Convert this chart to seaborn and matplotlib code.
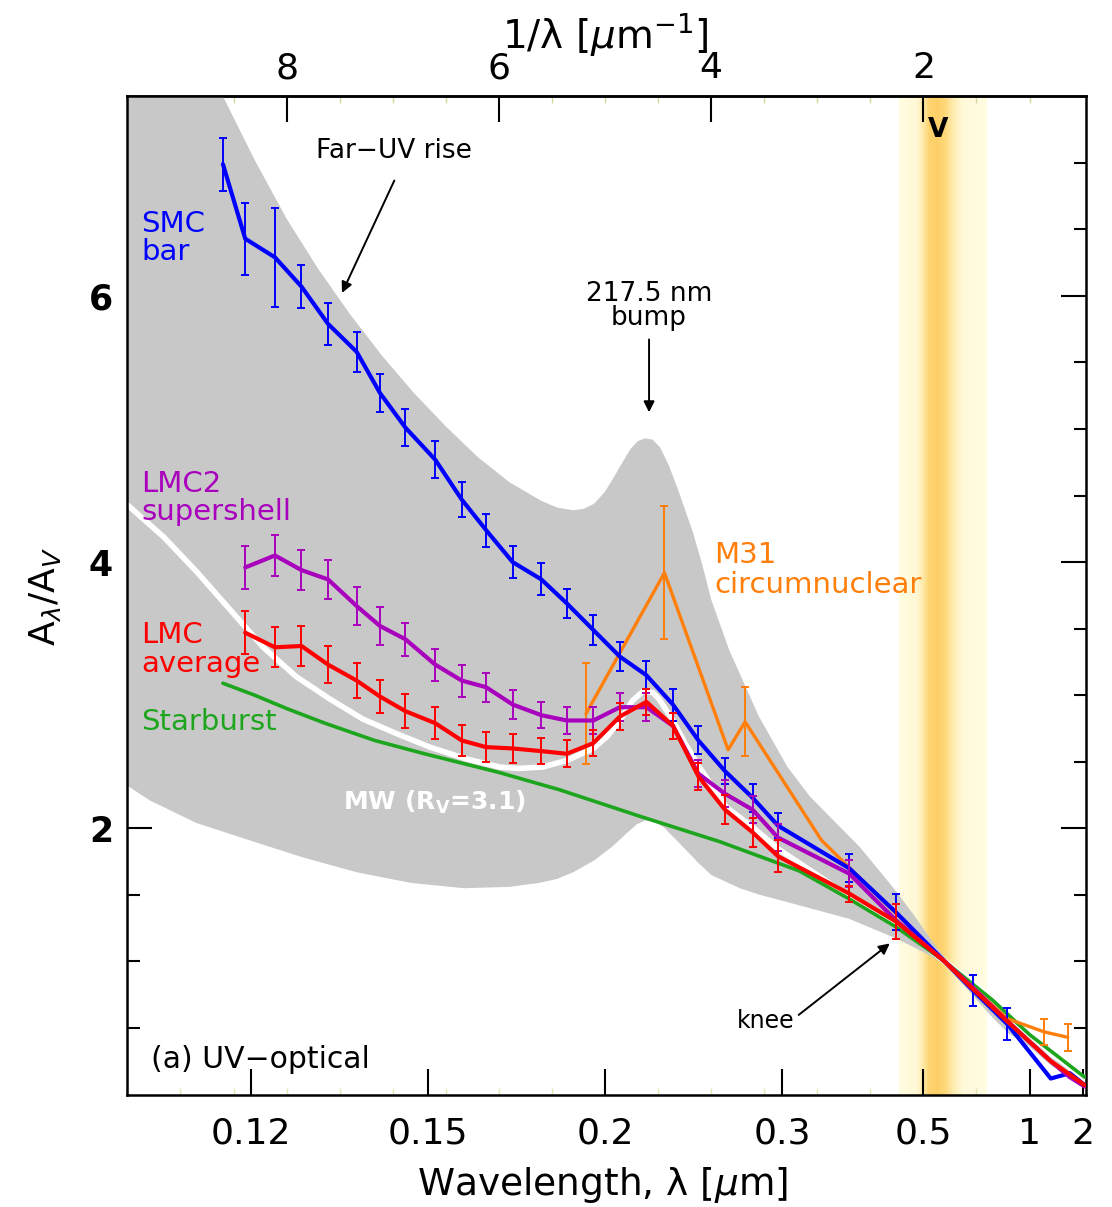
import numpy as np
import pandas as pd
import matplotlib
matplotlib.use("Agg")
import matplotlib.pyplot as plt
from matplotlib.ticker import FixedLocator
from matplotlib.colors import to_rgb
import seaborn as sns

# ---------------- data: x = 1/lambda [um^-1], y = A_lambda / A_V ----------------
smc_x = [8.60, 8.39, 8.11, 7.86, 7.61, 7.34, 7.12, 6.88, 6.60, 6.35, 6.12, 5.87, 5.60, 5.36, 5.11,
         4.86, 4.61, 4.36, 4.12, 3.87, 3.61, 3.37, 2.70, 2.26, 1.80, 1.53, 1.21, 0.80, 0.62, 0.48]
smc_y = [6.99, 6.43, 6.29, 6.07, 5.79, 5.58, 5.27, 5.01, 4.77, 4.47, 4.24, 4.00, 3.87, 3.69, 3.49,
         3.29, 3.15, 2.93, 2.66, 2.43, 2.23, 2.02, 1.70, 1.37, 1.00, 0.78, 0.53, 0.12, 0.16, 0.07]
smc_err = [0.20, 0.27, 0.37, 0.16, 0.16, 0.15, 0.14, 0.14, 0.14, 0.13, 0.125, 0.12, 0.12, 0.11, 0.11,
           0.11, 0.105, 0.12, 0.105, 0.10, 0.105, 0.095, 0.105, 0.135, 0.0, 0.115, 0.12, 0.0, 0.0, 0.0]

lmc_x = [8.39, 8.11, 7.86, 7.61, 7.34, 7.12, 6.88, 6.60, 6.35, 6.12, 5.87, 5.60, 5.36, 5.11, 4.86,
         4.61, 4.36, 4.12, 3.87, 3.61, 3.37, 2.70, 2.26, 1.80, 1.53, 1.21, 0.80, 0.62, 0.48]
lmc2_y = [3.96, 4.05, 3.94, 3.87, 3.67, 3.52, 3.42, 3.23, 3.11, 3.06, 2.93, 2.85, 2.81, 2.81, 2.91,
          2.91, 2.77, 2.41, 2.26, 2.14, 1.93, 1.66, 1.31, 1.00, 0.80, 0.55, 0.25, 0.13, 0.06]
lmc2_err = [0.16, 0.155, 0.15, 0.145, 0.14, 0.14, 0.125, 0.12, 0.12, 0.11, 0.11, 0.10, 0.10, 0.10, 0.105,
            0.105, 0.10, 0.10, 0.10, 0.10, 0.10, 0.10, 0.0, 0.0, 0.0, 0.0, 0.0, 0.0, 0.0]
lmcavg_y = [3.47, 3.36, 3.37, 3.23, 3.11, 2.99, 2.88, 2.79, 2.66, 2.61, 2.60, 2.58, 2.56, 2.64, 2.84,
            2.95, 2.77, 2.39, 2.14, 1.97, 1.79, 1.51, 1.30, 1.00, 0.79, 0.55, 0.25, 0.15, 0.07]
lmcavg_err = [0.16, 0.15, 0.15, 0.14, 0.13, 0.125, 0.13, 0.12, 0.12, 0.11, 0.11, 0.10, 0.10, 0.10, 0.10,
              0.10, 0.10, 0.10, 0.11, 0.11, 0.12, 0.06, 0.13, 0.0, 0.0, 0.0, 0.0, 0.0, 0.0]

m31_x = [5.18, 4.44, 3.84, 3.68, 2.96, 1.80, 1.21, 0.86, 0.64]
m31_y = [2.86, 3.92, 2.59, 2.80, 1.91, 1.00, 0.57, 0.47, 0.43]
m31_err = [0.38, 0.50, 0.0, 0.26, 0.0, 0.0, 0.0, 0.10, 0.10]

starburst_x = [8.60, 8.30, 8.00, 7.64, 7.17, 6.70, 6.00, 5.43, 4.67, 3.92, 3.17, 2.70, 2.26, 1.80, 1.35, 1.00, 0.48]
starburst_y = [3.09, 3.00, 2.90, 2.79, 2.66, 2.56, 2.42, 2.29, 2.09, 1.90, 1.68, 1.47, 1.26, 1.00, 0.71, 0.45, 0.13]

mw_x = [9.50, 9.16, 8.85, 8.53, 8.22, 7.91, 7.59, 7.28, 6.96, 6.65, 6.30, 5.99, 5.82, 5.59, 5.36, 5.11,
        4.98, 4.86, 4.74, 4.64, 4.55, 4.49, 4.36, 4.24, 4.11, 3.86, 3.61, 3.36, 2.70, 2.26, 1.80, 1.35, 1.00, 0.48]
mw_y = [4.43, 4.19, 3.93, 3.64, 3.36, 3.14, 2.97, 2.82, 2.71, 2.61, 2.52, 2.46, 2.45, 2.46, 2.51, 2.60,
        2.69, 2.81, 2.96, 3.03, 3.02, 2.97, 2.81, 2.63, 2.46, 2.16, 2.01, 1.84, 1.49, 1.28, 1.00, 0.72, 0.45, 0.11]

env_up_x = [9.50, 8.60, 8.30, 8.00, 7.70, 7.40, 7.10, 6.80, 6.50, 6.20, 5.90, 5.60, 5.45, 5.30, 5.20,
            5.10, 5.00, 4.93, 4.85, 4.76, 4.69, 4.62, 4.55, 4.48, 4.40, 4.31, 4.17, 4.08, 4.00, 3.83,
            3.55, 3.28, 3.07, 2.91, 2.60, 2.29, 2.10, 1.88, 1.80, 1.53, 1.20, 0.80, 0.46]
env_up_y = [8.90, 7.50, 7.02, 6.58, 6.20, 5.86, 5.55, 5.27, 5.02, 4.79, 4.60, 4.46, 4.41, 4.39, 4.40,
            4.44, 4.53, 4.62, 4.73, 4.85, 4.91, 4.93, 4.92, 4.86, 4.73, 4.54, 4.22, 3.97, 3.72, 3.34,
            2.84, 2.46, 2.24, 2.11, 1.86, 1.56, 1.36, 1.11, 1.03, 0.82, 0.58, 0.28, 0.11]
env_lo_x = [9.50, 9.29, 8.85, 8.35, 7.84, 7.34, 6.83, 6.33, 5.90, 5.62, 5.45, 5.30, 5.10, 4.92, 4.80,
            4.70, 4.62, 4.54, 4.45, 4.35, 4.24, 4.12, 4.00, 3.73, 3.54, 3.21, 2.70, 2.25, 2.00, 1.80,
            1.53, 1.35, 1.20, 1.00, 0.80, 0.62, 0.46]
env_lo_y = [2.32, 2.21, 2.04, 1.91, 1.78, 1.67, 1.59, 1.55, 1.56, 1.59, 1.62, 1.67, 1.76, 1.87, 1.96,
            2.03, 2.06, 2.05, 2.01, 1.93, 1.84, 1.74, 1.65, 1.55, 1.50, 1.43, 1.32, 1.17, 1.07, 0.98,
            0.74, 0.58, 0.46, 0.36, 0.22, 0.13, 0.06]

# V-band shading colour profile (1/lambda positions)
band_x = [2.231, 2.06, 2.00, 1.95, 1.87, 1.80, 1.72, 1.63, 1.406]
band_c = ['#FFFDE3', '#FFF8D4', '#FFE8A4', '#FED470', '#FDCF68', '#FED878', '#FFECB0', '#FFF9DA', '#FFFDE3']

wl_ticks = [0.12, 0.15, 0.2, 0.3, 0.5, 1, 2]
wl_labels = ['0.12', '0.15', '0.2', '0.3', '0.5', '1', '2']
inv_ticks = [8, 6, 4, 2]
y_ticks = [2, 4, 6]

C_SMC, C_LMC2, C_LMC = '#0000FF', '#A800BC', '#FF0000'
C_SB, C_M31, C_GRAY = '#1DA51D', '#FF7F0A', '#C8C8C8'

# ---------------- figure ----------------
sns.set_theme(style="white")
plt.rcParams['font.family'] = ['DejaVu Sans']
plt.rcParams['mathtext.fontset'] = 'dejavusans'
plt.rcParams['text.color'] = 'black'

W, H = 1112, 1207
fig = plt.figure(figsize=(W / 100, H / 100), dpi=100)
L, R, T, B = 127, 1086, 96.3, 1094.5
ax = fig.add_axes([L / W, 1 - B / H, (R - L) / W, (B - T) / H])

# V band gradient
xs = np.linspace(band_x[0], band_x[-1], 500)
rgb = np.array([to_rgb(c) for c in band_c])
xp = np.array(band_x)[::-1]
img = np.stack([np.interp(xs[::-1], xp, rgb[::-1, k])[::-1] for k in range(3)], axis=-1)[None, :, :]
ax.imshow(img, extent=[band_x[0], band_x[-1], 0, 7.5], aspect='auto', zorder=0, interpolation='bilinear')

# gray envelope
poly_x = np.concatenate([env_up_x, env_lo_x[::-1]])
poly_y = np.concatenate([env_up_y, env_lo_y[::-1]])
ax.fill(poly_x, poly_y, color=C_GRAY, lw=0, zorder=1)


def series(x, y, color, lw, z, err=None):
    df = pd.DataFrame({'x': x, 'y': y})
    sns.lineplot(data=df, x='x', y='y', ax=ax, color=color, linewidth=lw,
                 estimator=None, sort=False, zorder=z, solid_joinstyle='round')
    if err is not None:
        e = np.asarray(err)
        m = e > 0
        ax.errorbar(np.asarray(x)[m], np.asarray(y)[m], yerr=e[m], fmt='none', ecolor=color,
                    elinewidth=1.4, capsize=3.0, capthick=1.4, zorder=z)


series(mw_x, mw_y, 'white', 4.0, 2)
series(starburst_x, starburst_y, C_SB, 2.6, 3)
series(m31_x, m31_y, C_M31, 2.4, 4, m31_err)
series(smc_x, smc_y, C_SMC, 3.0, 5, smc_err)
series(lmc_x, lmc2_y, C_LMC2, 3.0, 6, lmc2_err)
series(lmc_x, lmcavg_y, C_LMC, 3.0, 7, lmcavg_err)

ax.set_xlim(9.504, 0.468)
ax.set_ylim(0, 7.5)
ax.set_xlabel('')
ax.set_ylabel('')

# ticks
ax.set_xticks([1 / w for w in wl_ticks])
ax.set_xticklabels(wl_labels)
ax.xaxis.set_minor_locator(FixedLocator(np.arange(1.0, 9.51, 0.5)))
ax.tick_params(axis='x', which='major', direction='in', length=19, width=1.5, labelsize=26,
               pad=16, bottom=True, top=False, color='black', labelcolor='black')
ax.tick_params(axis='x', which='minor', direction='in', length=5, width=1.0, color='#e6e4b4',
               bottom=True, top=False)

ax.set_yticks(y_ticks)
ax.set_yticklabels([str(v) for v in y_ticks], fontweight='bold')
ax.yaxis.set_minor_locator(FixedLocator(np.arange(0.5, 7.01, 0.5)))
ax.tick_params(axis='y', which='major', direction='in', length=18, width=1.5, labelsize=25, pad=10,
               left=True, right=True, color='black', labelcolor='black')
ax.tick_params(axis='y', which='minor', direction='in', length=9, width=1.5, left=True, right=True,
               color='black')

sec = ax.secondary_xaxis('top', functions=(lambda v: v, lambda v: v))
sec.set_xticks(inv_ticks)
sec.set_xticklabels([str(v) for v in inv_ticks])
sec.xaxis.set_minor_locator(FixedLocator(np.arange(1.0, 9.51, 0.5)))
sec.tick_params(axis='x', which='major', direction='in', length=19, width=1.5, labelsize=26, pad=8,
                top=True, labeltop=True, color='black', labelcolor='black')
sec.tick_params(axis='x', which='minor', direction='in', length=5, width=1.0, color='#d8d6a0', top=True)
sec.spines['top'].set_linewidth(1.8)
sec.spines['top'].set_color('black')

for s in ax.spines.values():
    s.set_color('black')
    s.set_linewidth(1.8)

# axis titles
fig.text(603 / W, 1 - 1185 / H, r'Wavelength, λ [$\mu$m]', fontsize=27, ha='center', va='center',
         color='black')
fig.text(605 / W, 1 - 35 / H, r'1/λ [$\mu$m$^{-1}$]', fontsize=28, ha='center', va='center',
         color='black')
fig.text(45 / W, 1 - 597 / H, r'A$_\lambda$/A$_V$', fontsize=26, ha='center', va='center',
         rotation=90, color='black')

# curve labels
fs = 21
ax.text(9.372, 6.479, 'SMC', color=C_SMC, fontsize=fs, va='baseline')
ax.text(9.372, 6.270, 'bar', color=C_SMC, fontsize=fs, va='baseline')
ax.text(9.372, 4.529, 'LMC2', color=C_LMC2, fontsize=fs, va='baseline')
ax.text(9.372, 4.316, 'supershell', color=C_LMC2, fontsize=fs, va='baseline')
ax.text(9.372, 3.390, 'LMC', color=C_LMC, fontsize=fs, va='baseline')
ax.text(9.372, 3.177, 'average', color=C_LMC, fontsize=fs, va='baseline')
ax.text(9.372, 2.739, 'Starburst', color=C_SB, fontsize=fs, va='baseline')
ax.text(3.973, 3.991, 'M31', color=C_M31, fontsize=fs, va='baseline')
ax.text(3.973, 3.770, 'circumnuclear', color=C_M31, fontsize=fs, va='baseline')
ax.text(7.47, 2.137, r'MW (R$_{\mathbf{V}}$=3.1)', color='white', fontsize=18, fontweight='bold',
        va='baseline', zorder=8)

# annotations
ax.text(6.992, 7.04, 'Far\u2212UV rise', fontsize=19, ha='center', va='baseline', color='black')
ax.annotate('', xy=(7.489, 6.004), xytext=(6.974, 6.886),
            arrowprops=dict(arrowstyle='-|>', color='black', lw=1.4, mutation_scale=16))
ax.text(4.588, 6.115, '217.5 nm\nbump', fontsize=19, ha='center', va='top', multialignment='center',
        linespacing=0.92, color='black')
ax.annotate('', xy=(4.585, 5.105), xytext=(4.585, 5.694),
            arrowprops=dict(arrowstyle='-|>', color='black', lw=1.4, mutation_scale=16))
ax.text(3.487, 0.497, 'knee', fontsize=17, ha='center', va='baseline', color='black')
ax.annotate('', xy=(2.296, 1.148), xytext=(3.196, 0.585),
            arrowprops=dict(arrowstyle='-|>', color='black', lw=1.4, mutation_scale=16))
ax.text(9.279, 0.197, '(a) UV\u2212optical', fontsize=21.5, ha='left', va='baseline', color='black')
ax.text(1.862, 7.196, 'V', fontsize=19, fontweight='bold', ha='center', va='baseline', zorder=8,
        color='black')

fig.savefig('out.png', dpi=100)
